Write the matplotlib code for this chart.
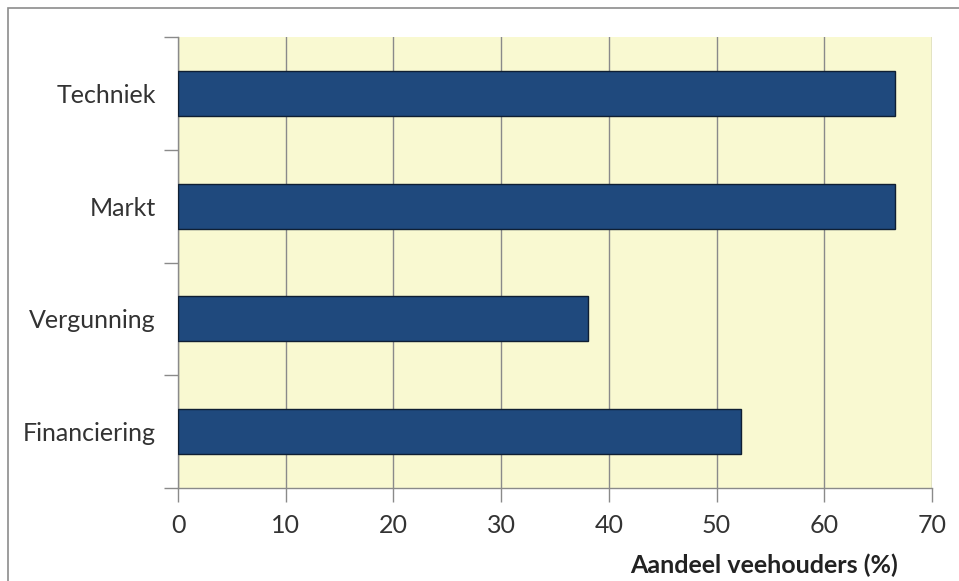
import matplotlib.pyplot as plt
import matplotlib.patches as mpatches
import numpy as np

categories = ["Techniek", "Markt", "Vergunning", "Financiering"]
values = [66.6, 66.6, 38.1, 52.3]
xticks = [0, 10, 20, 30, 40, 50, 60, 70]

plt.rcParams['font.family'] = ['Lato', 'DejaVu Sans']

fig = plt.figure(figsize=(9.59, 5.81), dpi=100)
W, H = 959, 581
ax = fig.add_axes([178 / W, 1 - 488 / H, (932 - 178) / W, (488 - 37) / H])

# outer frame of the picture
fig.patches.append(mpatches.Rectangle((8 / W, -0.01), 1.0, 1 - 8 / H + 0.01,
                                      transform=fig.transFigure, fill=False,
                                      edgecolor='#8c8c8c', linewidth=1.2))

ax.set_facecolor('#f9f9d1')
y = np.arange(len(categories))[::-1]
ax.barh(y, values, height=0.4, color='#1f497d', edgecolor='#0f1f33',
        linewidth=1.0, zorder=3)

ax.set_xlim(0, 70)
ax.set_ylim(-0.5, len(categories) - 0.5)
ax.set_xticks(xticks)
ax.set_xticklabels([str(t) for t in xticks], fontsize=18, color='#333333')
ax.set_yticks(y)
ax.set_yticklabels(categories, fontsize=18, color='#333333')
ax.set_yticks(np.arange(len(categories) + 1) - 0.5, minor=True)

ax.grid(axis='x', color='#8a8a8a', linewidth=1.0, zorder=1)
ax.tick_params(axis='y', which='major', length=0, pad=16)
ax.tick_params(axis='y', which='minor', length=10, color='#8a8a8a', width=1.0)
ax.tick_params(axis='x', length=10, color='#8a8a8a', width=1.0, pad=9)

for s in ['top', 'right']:
    ax.spines[s].set_visible(False)
for s in ['left', 'bottom']:
    ax.spines[s].set_color('#8a8a8a')
    ax.spines[s].set_linewidth(1.0)

fig.text(898 / W, 1 - 565 / H, "Aandeel veehouders (%)", ha='right', va='center',
         fontsize=18, fontweight='bold', color='#222222')

fig.savefig('out.png', dpi=100)
